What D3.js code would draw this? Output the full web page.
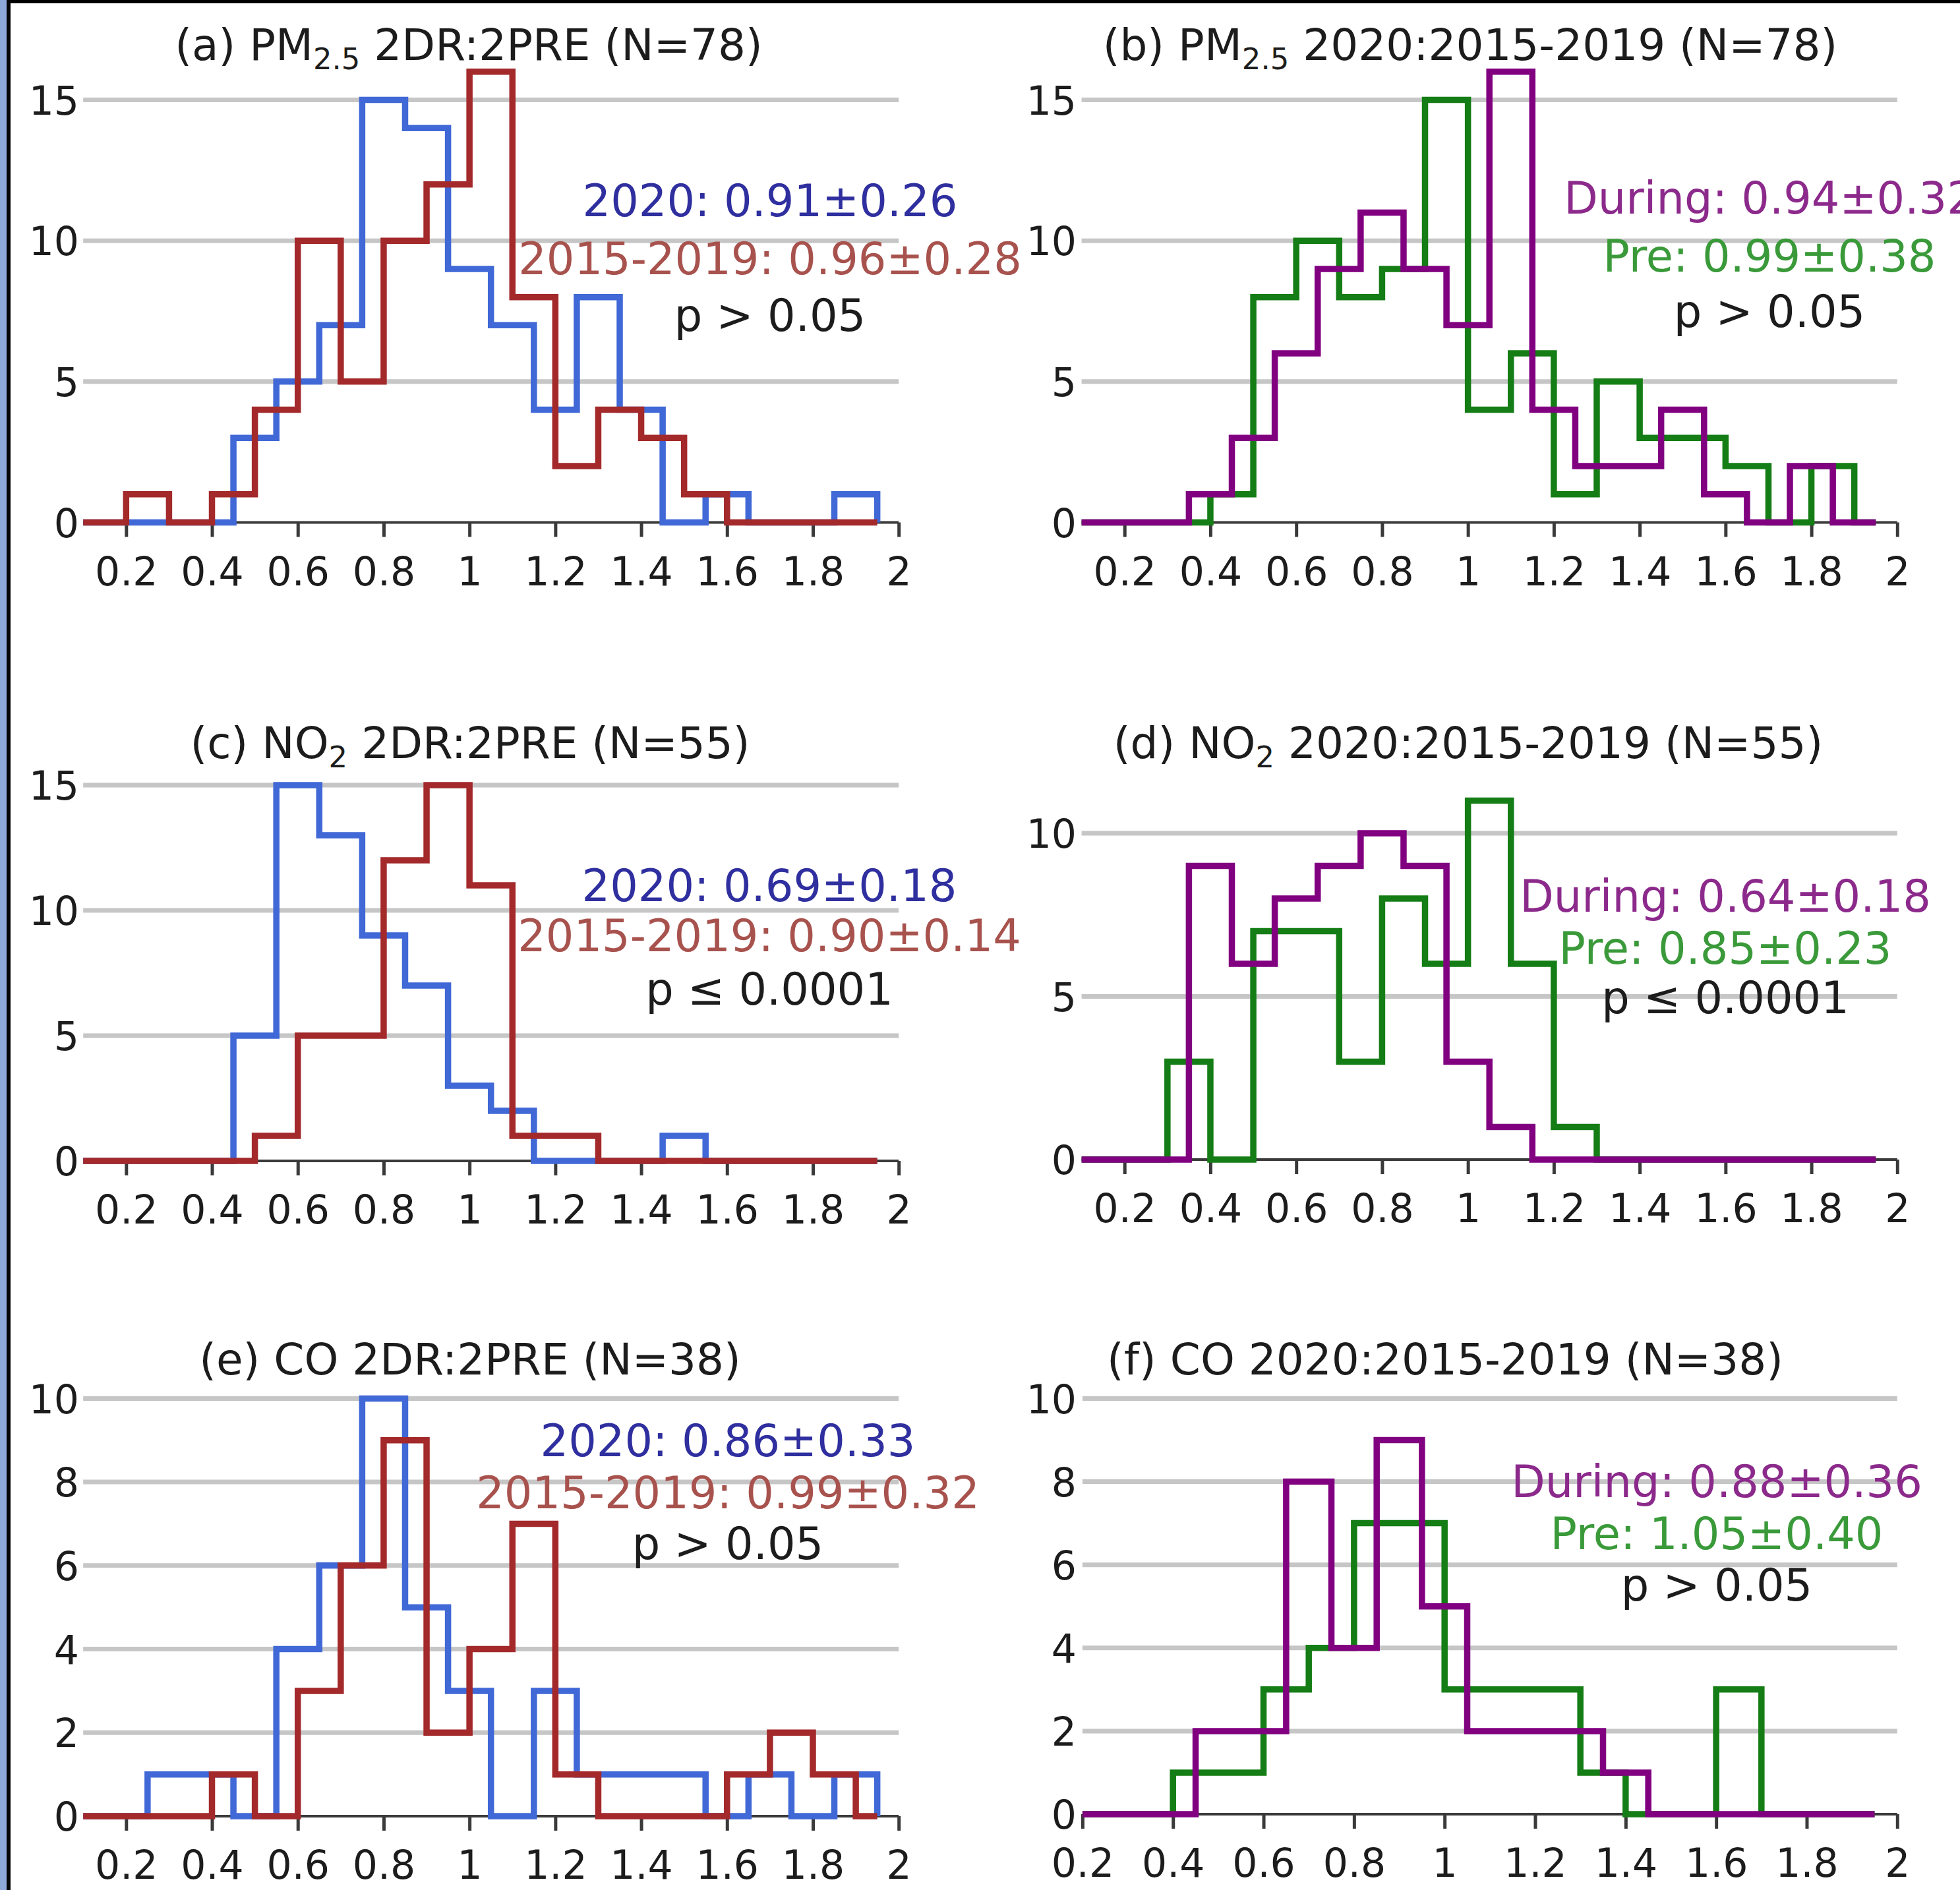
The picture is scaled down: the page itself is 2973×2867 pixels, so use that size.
<!DOCTYPE html>
<html>
<head>
<meta charset="utf-8">
<script src="https://cdnjs.cloudflare.com/ajax/libs/d3/7.8.5/d3.min.js"></script>
<style>
  html, body { margin: 0; padding: 0; background: #ffffff; }
  svg { display: block; }
  text { font-family: "DejaVu Sans", Verdana, sans-serif; }
</style>
</head>
<body>
<svg id="chart" width="2973" height="2867"></svg>
<script>
// ---------------- DATA ----------------
const binWidth = 0.1;
const seriesEnd = 1.95;
const xTickValues = [0.2, 0.4, 0.6, 0.8, 1, 1.2, 1.4, 1.6, 1.8, 2];
const xTickLabels = ["0.2", "0.4", "0.6", "0.8", "1", "1.2", "1.4", "1.6", "1.8", "2"];

const yTicksPM = [0, 5, 10, 15];
const yTicksNO2a = [0, 5, 10, 15];
const yTicksNO2b = [0, 5, 10];
const yTicksCO = [0, 2, 4, 6, 8, 10];

// (a) PM2.5 2DR:2PRE
const a2020Start = 0.45, a2020Counts = [3, 5, 7, 15, 14, 9, 7, 4, 8, 4, 0, 1, 0, 0, 1];
const a1519Start = 0.2,  a1519Counts = [1, 0, 1, 4, 10, 5, 10, 12, 16, 8, 2, 4, 3, 1];
// (b) PM2.5 2020:2015-2019
const bPreStart = 0.4,     bPreCounts = [1, 8, 10, 8, 9, 15, 4, 6, 1, 5, 3, 3, 2, 0, 2];
const bDuringStart = 0.35, bDuringCounts = [1, 3, 6, 9, 11, 9, 7, 16, 4, 2, 2, 4, 1, 0, 2];
// (c) NO2 2DR:2PRE
const c2020Start = 0.45, c2020Counts = [5, 15, 13, 9, 7, 3, 2, 0, 0, 0, 1];
const c1519Start = 0.5,  c1519Counts = [1, 5, 5, 12, 15, 11, 1, 1];
// (d) NO2 2020:2015-2019
const dPreStart = 0.3,     dPreCounts = [3, 0, 7, 7, 3, 8, 6, 11, 6, 1];
const dDuringStart = 0.35, dDuringCounts = [9, 6, 8, 9, 10, 9, 3, 1];
// (e) CO 2DR:2PRE
const e2020Start = 0.25, e2020Counts = [1, 1, 0, 4, 6, 10, 5, 3, 0, 3, 1, 1, 1, 0, 1, 0, 1];
const e1519Start = 0.4,  e1519Counts = [1, 0, 3, 6, 9, 2, 4, 7, 1, 0, 0, 0, 1, 2, 1];
// (f) CO 2020:2015-2019
const fPreStart = 0.4,     fPreCounts = [1, 1, 3, 4, 7, 7, 3, 3, 3, 1, 0, 0, 3];
const fDuringStart = 0.45, fDuringCounts = [2, 2, 8, 4, 9, 5, 2, 2, 2, 1];

// titles: [prefix, species, subscript, suffix]
const titleParts = [
  ["(a) ", "PM", "2.5", " 2DR:2PRE (N=78)"],
  ["(b) ", "PM", "2.5", " 2020:2015-2019 (N=78)"],
  ["(c) ", "NO", "2", " 2DR:2PRE (N=55)"],
  ["(d) ", "NO", "2", " 2020:2015-2019 (N=55)"],
  ["(e) ", "CO", "", " 2DR:2PRE (N=38)"],
  ["(f) ", "CO", "", " 2020:2015-2019 (N=38)"]
];
const statsA = ["2020: 0.91±0.26", "2015-2019: 0.96±0.28", "p > 0.05"];
const statsB = ["During: 0.94±0.32", "Pre: 0.99±0.38", "p > 0.05"];
const statsC = ["2020: 0.69±0.18", "2015-2019: 0.90±0.14", "p ≤ 0.0001"];
const statsD = ["During: 0.64±0.18", "Pre: 0.85±0.23", "p ≤ 0.0001"];
const statsE = ["2020: 0.86±0.33", "2015-2019: 0.99±0.32", "p > 0.05"];
const statsF = ["During: 0.88±0.36", "Pre: 1.05±0.40", "p > 0.05"];

// ---------------- STYLE / LAYOUT ----------------
const C = {
  blueLine: "#4068d6", redLine: "#a3292b", purpleLine: "#800080", greenLine: "#157d15",
  blueText: "#2f2f9f", redText: "#a8524e", purpleText: "#8c2a8c", greenText: "#3a9a3a",
  black: "#1c1c1c", grid: "#c6c6c6", axis: "#3a3a3a"
};
const statColorsDR = [C.blueText, C.redText, C.black];
const statColorsYR = [C.purpleText, C.greenText, C.black];

const panels = [
  { title: titleParts[0], tx: 711, ty: 91,
    x0: 0.1, px0: 126.2, px2: 1363.2, y0px: 792.5, yTop: 15, yTopPx: 151.5, yTicks: yTicksPM, labRight: 120,
    series: [[a2020Start, a2020Counts, C.blueLine], [a1519Start, a1519Counts, C.redLine]],
    stats: statsA, statColors: statColorsDR, sx: 1168, sy: [328, 416, 502] },
  { title: titleParts[1], tx: 2230, ty: 91,
    x0: 0.1, px0: 1640.6, px2: 2877.8, y0px: 792.5, yTop: 15, yTopPx: 151.5, yTicks: yTicksPM, labRight: 1633,
    series: [[bPreStart, bPreCounts, C.greenLine], [bDuringStart, bDuringCounts, C.purpleLine]],
    stats: statsB, statColors: statColorsYR, sx: 2684, sy: [324, 412, 496] },
  { title: titleParts[2], tx: 713, ty: 1150,
    x0: 0.1, px0: 126.2, px2: 1363.2, y0px: 1761, yTop: 15, yTopPx: 1191, yTicks: yTicksNO2a, labRight: 120,
    series: [[c2020Start, c2020Counts, C.blueLine], [c1519Start, c1519Counts, C.redLine]],
    stats: statsC, statColors: statColorsDR, sx: 1167, sy: [1367, 1443, 1524] },
  { title: titleParts[3], tx: 2227, ty: 1150,
    x0: 0.1, px0: 1640.6, px2: 2877.8, y0px: 1759, yTop: 10, yTopPx: 1264, yTicks: yTicksNO2b, labRight: 1633,
    series: [[dPreStart, dPreCounts, C.greenLine], [dDuringStart, dDuringCounts, C.purpleLine]],
    stats: statsD, statColors: statColorsYR, sx: 2617, sy: [1383, 1462, 1537] },
  { title: titleParts[4], tx: 713, ty: 2085,
    x0: 0.1, px0: 126.2, px2: 1363.2, y0px: 2755, yTop: 10, yTopPx: 2121.4, yTicks: yTicksCO, labRight: 120,
    series: [[e2020Start, e2020Counts, C.blueLine], [e1519Start, e1519Counts, C.redLine]],
    stats: statsE, statColors: statColorsDR, sx: 1104, sy: [2209, 2288, 2365] },
  { title: titleParts[5], tx: 2192, ty: 2085,
    x0: 0.2, px0: 1641.9, px2: 2877.8, y0px: 2752, yTop: 10, yTopPx: 2121.4, yTicks: yTicksCO, labRight: 1633,
    series: [[fPreStart, fPreCounts, C.greenLine], [fDuringStart, fDuringCounts, C.purpleLine]],
    stats: statsF, statColors: statColorsYR, sx: 2604, sy: [2271, 2350, 2428] }
];

const FS = { tick: 60, title: 66, stat: 67 };

// ---------------- DRAW ----------------
const svg = d3.select("#chart");
svg.append("rect").attr("width", 2973).attr("height", 2867).attr("fill", "#ffffff");

function stepPoints(start, counts, xMin) {
  const pts = [[xMin, 0], [start, 0]];
  counts.forEach((c, i) => {
    pts.push([start + i * binWidth, c]);
    pts.push([start + (i + 1) * binWidth, c]);
  });
  pts.push([start + counts.length * binWidth, 0]);
  pts.push([seriesEnd, 0]);
  return pts;
}

panels.forEach(p => {
  const g = svg.append("g");
  const x = d3.scaleLinear().domain([p.x0, 2]).range([p.px0, p.px2]);
  const y = d3.scaleLinear().domain([0, p.yTop]).range([p.y0px, p.yTopPx]);

  // gridlines
  g.append("g").selectAll("line").data(p.yTicks.filter(v => v > 0)).join("line")
    .attr("x1", x(p.x0)).attr("x2", x(2))
    .attr("y1", d => y(d)).attr("y2", d => y(d))
    .attr("stroke", C.grid).attr("stroke-width", 7);

  // x axis
  const xAxis = d3.axisBottom(x).tickValues(xTickValues)
    .tickFormat((d, i) => xTickLabels[i]).tickSize(22).tickPadding(30);
  const ax = g.append("g").attr("transform", `translate(0,${p.y0px})`).call(xAxis);
  ax.select(".domain").attr("stroke", C.axis).attr("stroke-width", 4)
    .attr("d", `M${x(p.x0)},0H${x(2)}`);
  ax.selectAll(".tick line").attr("stroke", C.axis).attr("stroke-width", 5);
  ax.selectAll(".tick text").attr("fill", C.black).attr("font-size", FS.tick)
    .attr("font-family", "DejaVu Sans").attr("dy", "0.72em");

  // y axis labels
  const yAxis = d3.axisLeft(y).tickValues(p.yTicks).tickFormat(d3.format("d")).tickSize(0).tickPadding(0);
  const ay = g.append("g").attr("transform", `translate(${p.labRight},0)`).call(yAxis);
  ay.select(".domain").remove();
  ay.selectAll(".tick text").attr("fill", C.black).attr("font-size", FS.tick)
    .attr("font-family", "DejaVu Sans").attr("dy", "0.36em");

  // step histograms
  const line = d3.line().x(d => x(d[0])).y(d => y(d[1]));
  p.series.forEach(([start, counts, color]) => {
    g.append("path").attr("d", line(stepPoints(start, counts, p.x0)))
      .attr("fill", "none").attr("stroke", color).attr("stroke-width", 9.5)
      .attr("stroke-linejoin", "miter").attr("stroke-linecap", "butt");
  });

  // title
  const t = g.append("text").attr("x", p.tx).attr("y", p.ty).attr("text-anchor", "middle")
    .attr("font-size", FS.title).attr("fill", C.black);
  t.append("tspan").text(p.title[0] + p.title[1]);
  if (p.title[2]) {
    t.append("tspan").attr("font-size", FS.title * 0.68).attr("dy", 14).text(p.title[2]);
    t.append("tspan").attr("dy", -14).text(p.title[3]);
  } else {
    t.append("tspan").text(p.title[3]);
  }

  // stats annotation
  p.stats.forEach((s, i) => {
    g.append("text").attr("x", p.sx).attr("y", p.sy[i]).attr("text-anchor", "middle")
      .attr("font-size", FS.stat).attr("fill", p.statColors[i]).text(s);
  });
});

// frame edges
svg.append("rect").attr("x", 0).attr("y", 0).attr("width", 2973).attr("height", 5).attr("fill", "#000");
svg.append("rect").attr("x", 0).attr("y", 0).attr("width", 10).attr("height", 2867).attr("fill", "#8eaadb");
svg.append("rect").attr("x", 10).attr("y", 0).attr("width", 6).attr("height", 2867).attr("fill", "#050505");
</script>
</body>
</html>
